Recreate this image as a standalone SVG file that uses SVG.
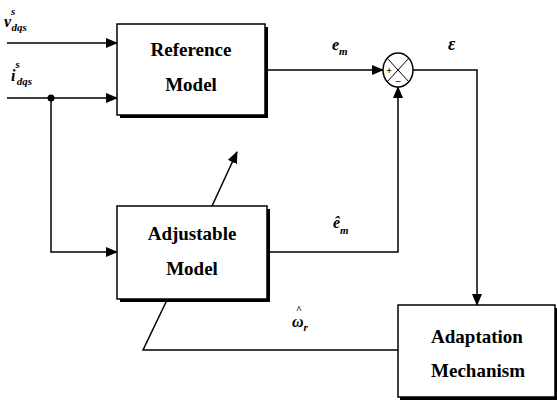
<svg xmlns="http://www.w3.org/2000/svg" width="557" height="401" viewBox="0 0 557 401">
<style>
.box{fill:#fff;stroke:#000;stroke-width:1.5}
.sh{fill:#000}
.t{font-weight:bold;font-size:19px;text-anchor:middle;fill:#000}
.m{font-weight:bold;font-style:italic;fill:#000}
.ln{fill:none;stroke:#000;stroke-width:1.5}
.op{font-weight:bold;font-size:10px;text-anchor:middle;fill:#000}
</style>
<defs>
<marker id="ah" markerWidth="12" markerHeight="10" refX="11" refY="5" orient="auto" markerUnits="userSpaceOnUse">
<path d="M0,0 L12,5 L0,10 Z" fill="#000"/>
</marker>
</defs>
<rect width="557" height="401" fill="#fff"/>
<g id="connectors">
<line class="ln" x1="7" y1="43" x2="117" y2="43" marker-end="url(#ah)"/>
<line class="ln" x1="7" y1="98" x2="117" y2="98" marker-end="url(#ah)"/>
<circle cx="51" cy="98" r="3.5" fill="#000"/>
<polyline class="ln" points="51,98 51,252 117,252" marker-end="url(#ah)"/>
<line class="ln" x1="267" y1="70" x2="383" y2="70" marker-end="url(#ah)"/>
<polyline class="ln" points="268,252 398,252 398,87" marker-end="url(#ah)"/>
<polyline class="ln" points="413,70 477,70 477,305" marker-end="url(#ah)"/>
<polyline class="ln" points="398,350 143,350 167,300"/>
<line class="ln" x1="212" y1="206" x2="237" y2="152" marker-end="url(#ah)"/>
</g>
<g font-family="'Liberation Serif', 'DejaVu Serif', serif">
<g id="reference-model">
<rect class="sh" x="120" y="27" width="148" height="91"/>
<rect class="box" x="117" y="24" width="148" height="91"/>
<text class="t" x="191" y="56">Reference</text>
<text class="t" x="191" y="91">Model</text>
</g>
<g id="adjustable-model">
<rect class="sh" x="120" y="209" width="150" height="93"/>
<rect class="box" x="117" y="206" width="150" height="93"/>
<text class="t" x="192" y="240">Adjustable</text>
<text class="t" x="192" y="275">Model</text>
</g>
<g id="adaptation-mechanism">
<rect class="sh" x="400" y="308" width="157" height="92"/>
<rect class="box" x="398" y="305" width="157" height="92"/>
<text class="t" x="477" y="343">Adaptation</text>
<text class="t" x="478" y="377">Mechanism</text>
</g>
<g id="sum">
<ellipse cx="398" cy="70" rx="15" ry="17" fill="#fff" stroke="#000" stroke-width="1.5"/>
<line x1="387" y1="58" x2="409" y2="82" stroke="#000" stroke-width="1"/>
<line x1="409" y1="58" x2="387" y2="82" stroke="#000" stroke-width="1"/>
<text class="op" x="389" y="74">+</text>
<text class="op" x="398" y="85">−</text>
</g>
<g id="labels">
<text class="m" x="4" y="27" font-size="16">v<tspan dy="-12" font-size="11">s</tspan><tspan dx="-4" dy="16" font-size="11">dqs</tspan></text>
<text class="m" x="11" y="81" font-size="16">i<tspan dy="-13" font-size="11">s</tspan><tspan dx="-3" dy="17" font-size="11">dqs</tspan></text>
<text class="m" x="332" y="50" font-size="16">e<tspan dy="5" font-size="11">m</tspan></text>
<text class="m" x="448" y="50" font-size="18">ε</text>
<text class="m" x="333" y="228" font-size="16">ê<tspan dy="6" font-size="11">m</tspan></text>
<text class="m" x="296" y="313" font-size="10">^</text>
<text class="m" x="292" y="327" font-size="16">ω<tspan dy="4" font-size="11">r</tspan></text>
</g>
</g>
</svg>
